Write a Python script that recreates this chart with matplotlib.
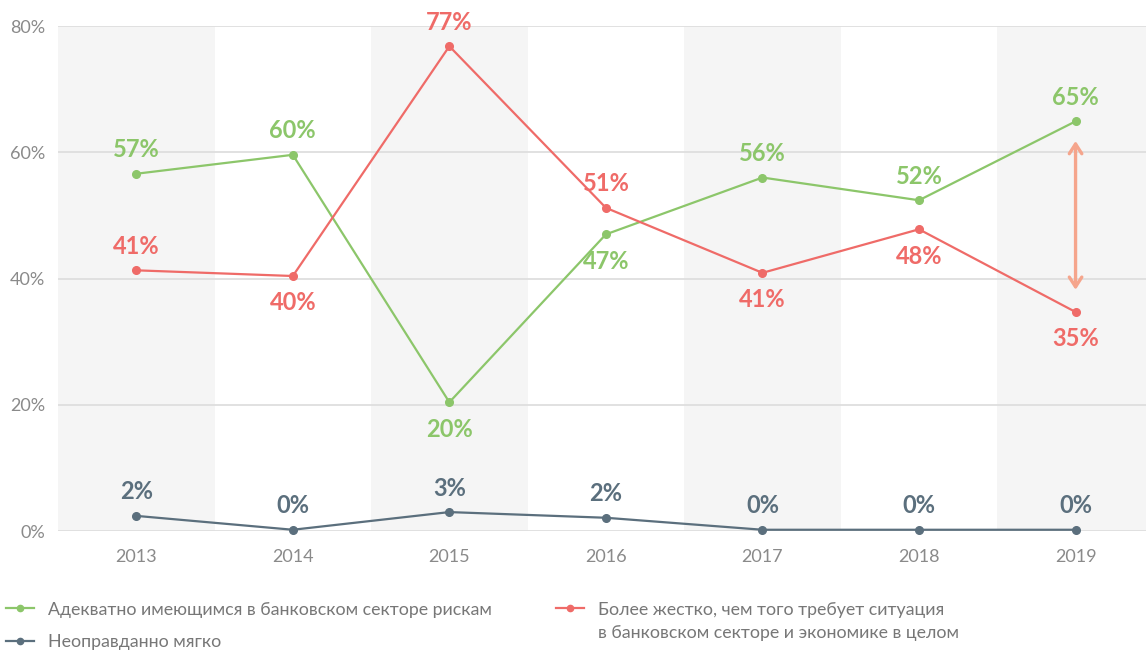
import matplotlib.pyplot as plt
from matplotlib.lines import Line2D

plt.rcParams['font.family'] = ['Lato', 'Noto Sans', 'DejaVu Sans']

years = ["2013", "2014", "2015", "2016", "2017", "2018", "2019"]
adequate = [56.6, 59.6, 20.4, 47.0, 56.0, 52.4, 64.9]
tougher = [41.3, 40.4, 76.8, 51.2, 40.9, 47.8, 34.7]
softer = [2.4, 0.2, 3.0, 2.1, 0.2, 0.2, 0.2]

# label placement: +1 above the point, -1 below
adequate_pos = [1, 1, -1, -1, 1, 1, 1]
tougher_pos = [1, -1, 1, 1, -1, -1, -1]
softer_pos = [1, 1, 1, 1, 1, 1, 1]

label_adequate = "Адекватно имеющимся в банковском секторе рискам"
label_softer = "Неоправданно мягко"
label_tougher = ["Более жестко, чем того требует ситуация",
                 "в банковском секторе и экономике в целом"]

GREEN = "#8cc66a"
RED = "#ef6b68"
SLATE = "#5b6f7d"
ARROW = "#f5a58c"
BAND = "#f5f5f5"
GRID = "#dcdcdc"
TICK = "#8a8a8a"
LEGTXT = "#777777"

fig = plt.figure(figsize=(11.46, 6.51), dpi=100)
ax = fig.add_axes([0.0506, 0.1843, 0.9494, 0.7757])

x = list(range(len(years)))

# alternating column bands
for i in x:
    if i % 2 == 0:
        ax.axvspan(i - 0.5, i + 0.5, color=BAND, zorder=0, lw=0)

for yv in [0, 20, 40, 60, 80]:
    ax.axhline(yv, color=GRID, lw=1.2, zorder=1)

series = [
    (adequate, adequate_pos, GREEN),
    (tougher, tougher_pos, RED),
    (softer, softer_pos, SLATE),
]
for vals, pos, col in series:
    ax.plot(x, vals, color=col, lw=1.6, marker="o", markersize=5.5,
            zorder=3, clip_on=False)
    for xi, v, p in zip(x, vals, pos):
        off = 9 if p > 0 else -11
        ax.annotate(f"{v:.0f}%", (xi, v), xytext=(0, off),
                    textcoords="offset points", ha="center",
                    va="bottom" if p > 0 else "top",
                    fontsize=17, fontweight="bold", color=col, zorder=4)

# gap between the two main answers in the last year
ax.annotate("", xy=(6, 38.2), xytext=(6, 61.8),
            arrowprops=dict(arrowstyle="<->,head_length=0.7,head_width=0.45",
                            color=ARROW, lw=2.4, shrinkA=0, shrinkB=0),
            zorder=2)

ax.set_xlim(-0.5, 6.45)
ax.set_ylim(0, 80)
ax.set_xticks(x)
ax.set_xticklabels(years)
ax.set_yticks([0, 20, 40, 60, 80])
ax.set_yticklabels([f"{t}%" for t in [0, 20, 40, 60, 80]])
ax.tick_params(axis="both", length=0, colors=TICK, labelsize=13)
ax.tick_params(axis="x", pad=13)
ax.tick_params(axis="y", pad=9)
for s in ax.spines.values():
    s.set_visible(False)

def handle(col):
    return Line2D([], [], color=col, marker="o", markersize=4.5, lw=1.6)

leg_kw = dict(loc="upper left", frameon=False, fontsize=12.8,
              handlelength=1.6, handletextpad=0.8, borderaxespad=0,
              borderpad=0, labelspacing=0.92, labelcolor=LEGTXT)
leg1 = fig.legend([handle(GREEN), handle(SLATE)],
                  [label_adequate, label_softer],
                  bbox_to_anchor=(0.005, 0.076), **leg_kw)
leg2 = fig.legend([handle(RED)], [label_tougher[0]],
                  bbox_to_anchor=(0.485, 0.076), **leg_kw)

# second line of the red item sits under the first, not centred on the marker
fig.canvas.draw()
first = leg2.get_texts()[0].get_window_extent()
x0, y0 = fig.transFigure.inverted().transform((first.x0, first.y0))
fig.text(x0, y0 - 0.0115, label_tougher[1], ha="left", va="top",
         fontsize=12.8, color=LEGTXT)

fig.savefig("out.png", dpi=100)
